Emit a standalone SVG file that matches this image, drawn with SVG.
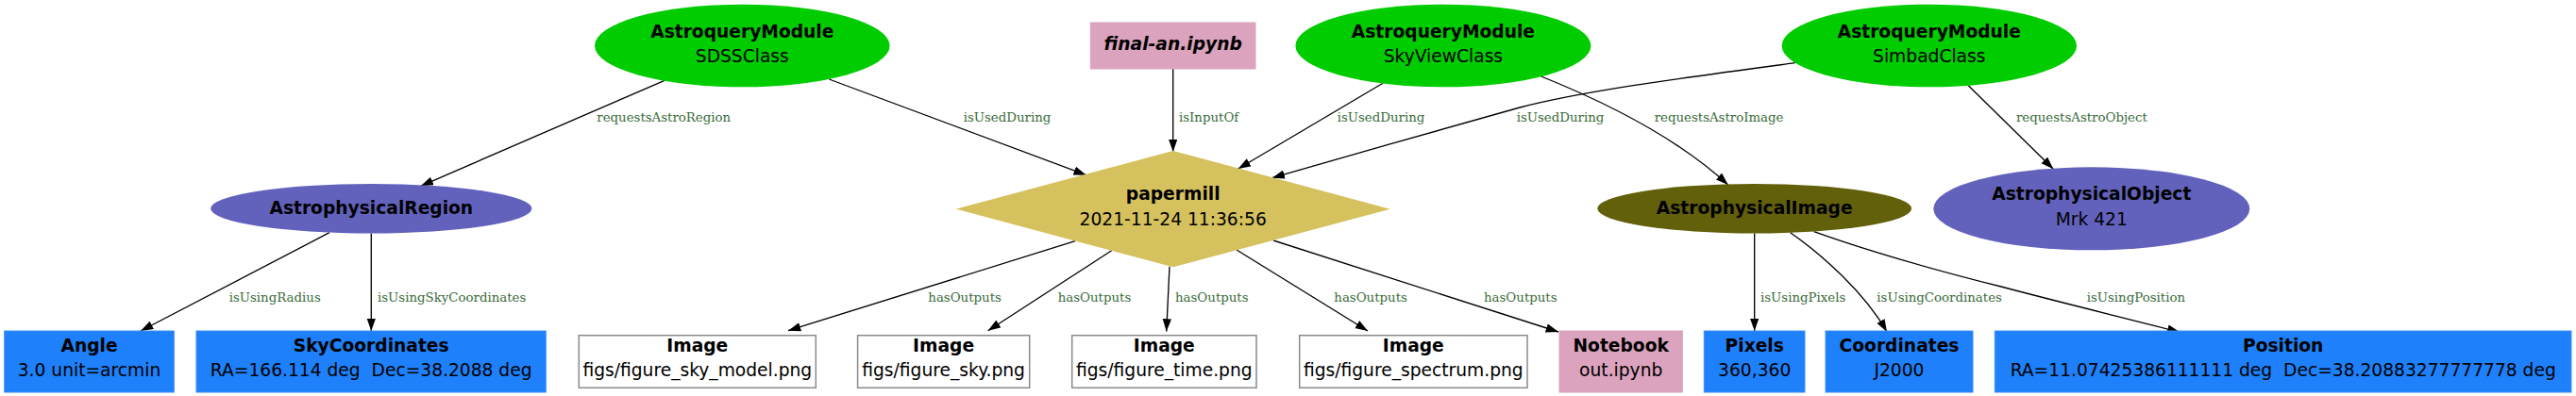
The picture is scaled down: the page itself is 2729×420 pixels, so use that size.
<svg xmlns="http://www.w3.org/2000/svg" width="2729" height="420" viewBox="0 0 2729 420">
<defs>
<marker id="ah" markerUnits="userSpaceOnUse" markerWidth="14" markerHeight="10" refX="13.3" refY="4.7" orient="auto">
<path d="M0,0 L13.3,4.7 L0,9.4 z" fill="#000"/>
</marker>
<style>
.n{font-family:"DejaVu Sans",sans-serif;font-size:18.67px;fill:#000;text-anchor:middle}
.b{font-weight:bold}
.bi{font-weight:bold;font-style:italic}
.l{font-family:"DejaVu Serif",serif;font-size:13.33px;fill:#3a6b3a}
.e{fill:none;stroke:#000;stroke-width:1.33;marker-end:url(#ah)}
.green{fill:#00cc00}
.purple{fill:#6262bd}
.olive{fill:#63600c}
.khaki{fill:#d5c15d}
.pink{fill:#dba3bd;stroke:#dba3bd}
.blue{fill:#1e80fa;stroke:#3d8ffa;stroke-width:1}
.white{fill:#fff;stroke:#8a8a8a;stroke-width:1.5}
</style>
</defs>
<rect width="2729" height="420" fill="#fff"/>

<g id="edges">
<path class="e" d="M704,85.3 L445.7,197.3"/>
<path class="e" d="M878.3,84 L1150.7,185.7"/>
<path class="e" d="M1242.7,73 L1242.7,161"/>
<path class="e" d="M1465,88.3 L1311.7,179"/>
<path class="e" d="M1901.7,66.7 C1780,83 1680,96 1610,114 C1530,136 1430,165 1347.7,188.7"/>
<path class="e" d="M1632.7,81 C1680,100 1770,140 1830.7,196"/>
<path class="e" d="M2085.3,90.7 L2175.3,179.3"/>
<path class="e" d="M349,246.7 L149,351"/>
<path class="e" d="M393.3,247.4 L393.3,351"/>
<path class="e" d="M1139,255.7 L835,350.7"/>
<path class="e" d="M1177.7,265.7 L1046.7,350.7"/>
<path class="e" d="M1239,282.7 L1235.7,351.5"/>
<path class="e" d="M1310,265 L1449,351"/>
<path class="e" d="M1349,255 L1651,352"/>
<path class="e" d="M1858.7,247.4 L1858.7,351"/>
<path class="e" d="M1896.7,246.7 C1930,270 1975,310 1999,352"/>
<path class="e" d="M1921.7,245.7 C1990,270 2060,289 2120,304 C2180,320 2250,337 2309.3,352.3"/>
<text class="l" x="632.3" y="129.3">requestsAstroRegion</text>
<text class="l" x="1020.7" y="129.3">isUsedDuring</text>
<text class="l" x="1249" y="129.3">isInputOf</text>
<text class="l" x="1416.7" y="129.3">isUsedDuring</text>
<text class="l" x="1606.7" y="129.3">isUsedDuring</text>
<text class="l" x="1752.7" y="129.3">requestsAstroImage</text>
<text class="l" x="2136" y="129.3">requestsAstroObject</text>
<text class="l" x="242.7" y="319.5">isUsingRadius</text>
<text class="l" x="400" y="319.5">isUsingSkyCoordinates</text>
<text class="l" x="983.3" y="319.5">hasOutputs</text>
<text class="l" x="1120.7" y="319.5">hasOutputs</text>
<text class="l" x="1245" y="319.5">hasOutputs</text>
<text class="l" x="1413.3" y="319.5">hasOutputs</text>
<text class="l" x="1572" y="319.5">hasOutputs</text>
<text class="l" x="1865" y="319.5">isUsingPixels</text>
<text class="l" x="1988.3" y="319.5">isUsingCoordinates</text>
<text class="l" x="2210.7" y="319.5">isUsingPosition</text>
</g>

<g id="sdss">
<ellipse class="green" cx="786.3" cy="48.5" rx="156.3" ry="43.8"/>
<text class="n b" x="786.3" y="40">AstroqueryModule</text>
<text class="n" x="786.3" y="65.7">SDSSClass</text>
</g>
<g id="finalan">
<rect class="pink" x="1155.3" y="24" width="174.7" height="49"/>
<text class="n bi" x="1242.7" y="53.3">final-an.ipynb</text>
</g>
<g id="skyview">
<ellipse class="green" cx="1528.9" cy="48.5" rx="156.5" ry="43.8"/>
<text class="n b" x="1528.9" y="40">AstroqueryModule</text>
<text class="n" x="1528.9" y="65.7">SkyViewClass</text>
</g>
<g id="simbad">
<ellipse class="green" cx="2043.8" cy="48.5" rx="156.2" ry="43.8"/>
<text class="n b" x="2043.8" y="40">AstroqueryModule</text>
<text class="n" x="2043.8" y="65.7">SimbadClass</text>
</g>
<g id="region">
<ellipse class="purple" cx="393.3" cy="221.2" rx="170" ry="26.2"/>
<text class="n b" x="393.3" y="226.7">AstrophysicalRegion</text>
</g>
<g id="papermill">
<polygon class="khaki" points="1012.7,221.7 1242.7,160 1472.7,221.7 1242.7,283.3"/>
<text class="n b" x="1242.7" y="212">papermill</text>
<text class="n" x="1242.7" y="238.7">2021-11-24 11:36:56</text>
</g>
<g id="astroimage">
<ellipse class="olive" cx="1858.7" cy="221.2" rx="166.3" ry="26.2"/>
<text class="n b" x="1858.7" y="226.7">AstrophysicalImage</text>
</g>
<g id="astroobject">
<ellipse class="purple" cx="2215.8" cy="221.3" rx="167.5" ry="44"/>
<text class="n b" x="2215.8" y="212">AstrophysicalObject</text>
<text class="n" x="2215.8" y="238.7">Mrk 421</text>
</g>
<g id="angle">
<rect class="blue" x="4.7" y="351" width="179.6" height="65"/>
<text class="n b" x="94.5" y="373.3">Angle</text>
<text class="n" x="94.5" y="399.3">3.0 unit=arcmin</text>
</g>
<g id="skycoords">
<rect class="blue" x="208" y="351" width="370.3" height="65"/>
<text class="n b" x="393.2" y="373.3">SkyCoordinates</text>
<text class="n" x="393.2" y="399.3">RA=166.114 deg &#160;Dec=38.2088 deg</text>
</g>
<g id="img_sky_model">
<rect class="white" x="613.3" y="355.7" width="251" height="55.6"/>
<text class="n b" x="738.8" y="373.3">Image</text>
<text class="n" x="738.8" y="399.3">figs/figure_sky_model.png</text>
</g>
<g id="img_sky">
<rect class="white" x="908.6" y="355.7" width="182.1" height="55.6"/>
<text class="n b" x="999.6" y="373.3">Image</text>
<text class="n" x="999.6" y="399.3">figs/figure_sky.png</text>
</g>
<g id="img_time">
<rect class="white" x="1135.7" y="355.7" width="195.3" height="55.6"/>
<text class="n b" x="1233.3" y="373.3">Image</text>
<text class="n" x="1233.3" y="399.3">figs/figure_time.png</text>
</g>
<g id="img_spectrum">
<rect class="white" x="1376.7" y="355.7" width="241.3" height="55.6"/>
<text class="n b" x="1497.3" y="373.3">Image</text>
<text class="n" x="1497.3" y="399.3">figs/figure_spectrum.png</text>
</g>
<g id="notebook">
<rect class="pink" x="1652" y="351" width="130.3" height="65"/>
<text class="n b" x="1717.2" y="373.3">Notebook</text>
<text class="n" x="1717.2" y="399.3">out.ipynb</text>
</g>
<g id="pixels">
<rect class="blue" x="1805.3" y="351" width="106.7" height="65"/>
<text class="n b" x="1858.7" y="373.3">Pixels</text>
<text class="n" x="1858.7" y="399.3">360,360</text>
</g>
<g id="coordinates">
<rect class="blue" x="1934" y="351" width="156" height="65"/>
<text class="n b" x="2012" y="373.3">Coordinates</text>
<text class="n" x="2012" y="399.3">J2000</text>
</g>
<g id="position">
<rect class="blue" x="2113.3" y="351" width="610.7" height="65"/>
<text class="n b" x="2418.7" y="373.3">Position</text>
<text class="n" x="2418.7" y="399.3">RA=11.07425386111111 deg &#160;Dec=38.20883277777778 deg</text>
</g>
</svg>
